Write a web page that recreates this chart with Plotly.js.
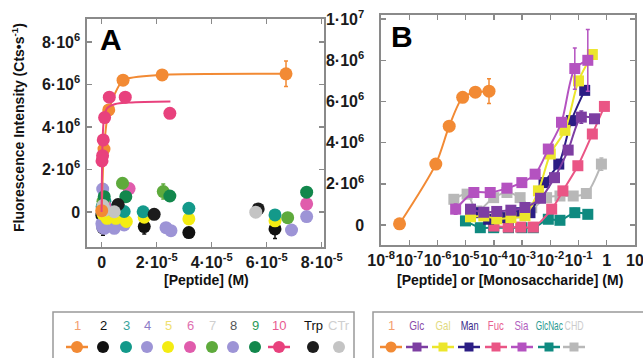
<!DOCTYPE html>
<html><head><meta charset="utf-8">
<script src="https://cdn.plot.ly/plotly-3.0.1.min.js"></script>
<style>html,body{margin:0;padding:0;background:#fff}#c{width:643px;height:358px}</style>
</head><body><div id="c"></div>
<script>
// ---------- Panel A data ([Peptide] in M, intensity in Cts/s) ----------
const p1X = [4.5e-8, 8.7e-7, 2.6e-6, 7.8e-6, 2.2e-5, 6.7e-5];
const p1Y = [0.06e6, 2.96e6, 4.8e6, 6.2e6, 6.45e6, 6.5e6];
const p1E = [0, 0.15e6, 0.2e6, 0.1e6, 0.1e6, 0.6e6];

const p10X = [1.5e-7, 3.6e-7, 6e-7, 1.1e-6, 2.8e-6, 8.6e-6, 2.48e-5];
const p10Y = [2.4e6, 2.65e6, 3.39e6, 4.44e6, 5.4e6, 5.4e6, 4.64e6];
const p10FitX = [0, 1e-7, 2.5e-7, 5e-7, 1e-6, 2e-6, 5e-6, 1e-5, 2.5e-5];
const p10FitY = [0, 1.5e6, 2.8e6, 3.8e6, 4.5e6, 4.88e6, 5.08e6, 5.15e6, 5.2e6];

const p2X = [1e-7, 5e-7, 1.2e-6, 6e-6, 1.55e-5, 3.17e-5, 6.3e-5];
const p2Y = [-0.15e6, -0.75e6, 0.25e6, 0.3e6, -0.69e6, -0.97e6, -0.8e6];
const p2E = [0.1e6, 0.35e6, 0, 0, 0.35e6, 0, 0.45e6];
const p3X = [2e-7, 1.2e-6, 4e-6, 8.2e-6, 1.51e-5, 3.17e-5, 6.3e-5];
const p3Y = [0.25e6, 0.5e6, 0.1e6, 0.02e6, 0.01e6, 0.17e6, -0.14e6];
const p4X = [1e-7, 4e-7, 1e-6, 4.6e-6, 8.2e-6, 2.34e-5];
const p4Y = [-0.55e6, 1.08e6, -0.77e6, -0.77e6, -0.61e6, -0.74e6];
const p5X = [5e-7, 2e-6, 5.2e-6, 9e-6, 1.55e-5, 3.17e-5, 6.3e-5];
const p5Y = [-0.1e6, -0.3e6, -0.3e6, -0.45e6, -0.25e6, -0.33e6, -0.42e6];
const p6X = [1.2e-6, 1.0e-5, 7.45e-5];
const p6Y = [0.3e6, 1.1e6, 0.38e6];
const p7X = [5e-7, 7.6e-6, 2.24e-5, 6.76e-5];
const p7Y = [0.5e6, 1.35e6, 0.96e6, -0.27e6];
const p7E = [0, 0, 0.35e6, 0];
const p8X = [3e-7, 2.52e-5, 6.9e-5, 7.45e-5];
const p8Y = [-0.7e6, -0.88e6, -0.85e6, -0.22e6];
const p9X = [9.5e-7, 8.8e-6, 2.48e-5, 7.45e-5];
const p9Y = [0.72e6, 0.72e6, 0.75e6, 0.93e6];
const trpX = [6e-6, 1.91e-5, 5.69e-5];
const trpY = [0.35e6, -0.11e6, 0.14e6];
const ctrX = [5e-7, 1.2e-6, 4.6e-6, 5.6e-5];
const ctrY = [0.3e6, 0.09e6, 0.01e6, -0.01e6];

// ---------- Panel B data ([Monosaccharide] in M) ----------
const siaX = [4.4e-6, 1.95e-5, 7.4e-5, 2.9e-4, 9.8e-4, 2.9e-3, 8.5e-3, 2.5e-2, 7.4e-2, 0.214];
const siaY = [0.77e6, 1.58e6, 1.58e6, 1.79e6, 2.06e6, 2.47e6, 3.69e6, 4.99e6, 7.6e6, 8.0e6];
const siaE = [0.25e6, 0, 0, 0, 0, 0, 0, 0, 1.0e6, 1.5e6];
const glcX = [1.48e-5, 4.4e-5, 1.26e-4, 4.0e-4, 1.26e-3, 4.5e-3, 1.41e-2, 4.3e-2, 0.126, 0.37];
const glcY = [0.77e6, 0.62e6, 0.66e6, 0.72e6, 0.85e6, 1.3e6, 2.3e6, 3.64e6, 5.24e6, 5.16e6];
const glcE = [0, 0, 0, 0, 0, 0, 0, 0, 0.3e6, 0];
const galX = [1.48e-5, 4.4e-5, 1.26e-4, 4.0e-4, 1.26e-3, 3.8e-3, 1e-2, 3.3e-2, 0.1, 0.31];
const galY = [0.4e6, 0.44e6, 0.3e6, 0.36e6, 0.45e6, 1.66e6, 3.45e6, 4.6e6, 7.0e6, 8.28e6];
const manX = [2.5e-5, 6.5e-5, 2.2e-4, 7.4e-4, 1.9e-3, 6.0e-3, 2.0e-2, 5.6e-2, 0.166];
const manY = [0.6e6, 0.28e6, 0.36e6, 0.6e6, 0.6e6, 2.06e6, 2.96e6, 5.07e6, 6.54e6];
const fucX = [1e-4, 3.2e-4, 8.9e-4, 2.5e-3, 1.12e-2, 2.8e-2, 9.5e-2, 0.31, 0.83];
const fucY = [-0.05e6, -0.1e6, -0.1e6, -0.1e6, 0.77e6, 1.66e6, 2.88e6, 4.42e6, 5.76e6];
const gnaX = [9.8e-6, 3.3e-5, 9.8e-5, 3.3e-4, 9.8e-4, 2.5e-3, 8.5e-3, 2.2e-2, 7.4e-2, 0.214];
const gnaY = [0.2e6, -0.13e6, -0.13e6, -0.13e6, -0.13e6, -0.13e6, 0.28e6, 0.23e6, 0.6e6, 0.52e6];
const gnaE = [0, 0, 0, 0, 0, 0, 0, 0, 0.2e6, 0];
const chdX = [3.8e-6, 1.12e-5, 2.5e-5, 9.8e-5, 2.9e-4, 8.5e-4, 2.2e-3, 7.4e-3, 2.2e-2, 6.5e-2, 0.19, 0.65];
const chdY = [1.25e6, 1.5e6, 0.68e6, 1.33e6, 1.58e6, 1.33e6, 0.84e6, 1.33e6, 1.41e6, 1.41e6, 1.53e6, 2.96e6];
const chdE = [0, 0, 0, 0, 0, 0, 0, 0, 0, 0, 0, 0.3e6];

// ---------- ticks ----------
const yTickValsA = [0, 2e6, 4e6, 6e6, 8e6];
const yTickTextA = ['0', '2·10<sup>6</sup>', '4·10<sup>6</sup>', '6·10<sup>6</sup>', '8·10<sup>6</sup>'];
const xTickValsA = [0, 2e-5, 4e-5, 6e-5, 8e-5];
const xTickTextA = ['0', '2·10<sup>-5</sup>', '4·10<sup>-5</sup>', '6·10<sup>-5</sup>', '8·10<sup>-5</sup>'];
const yTickValsB = [0, 2e6, 4e6, 6e6, 8e6, 1e7];
const yTickTextB = ['0', '2·10<sup>6</sup>', '4·10<sup>6</sup>', '6·10<sup>6</sup>', '8·10<sup>6</sup>', '1·10<sup>7</sup>'];
const xTickValsB = [1e-8, 1e-7, 1e-6, 1e-5, 1e-4, 1e-3, 1e-2, 1e-1, 1, 10];
const xTickTextB = ['10<sup>-8</sup>', '10<sup>-7</sup>', '10<sup>-6</sup>', '10<sup>-5</sup>', '10<sup>-4</sup>', '10<sup>-3</sup>', '10<sup>-2</sup>', '10<sup>-1</sup>', '1', '10'];

// ---------- legends ----------
const legA = ['1', '2', '3', '4', '5', '6', '7', '8', '9', '10', 'Trp', 'CTr'];
const legB = ['1', 'Glc', 'Gal', 'Man', 'Fuc', 'Sia', 'GlcNac', 'CHD'];

// ---------- styles / layout constants ----------
const C = {
  p1: '#f28a34', p2: '#111111', p3: '#13998a', p4: '#9d94d6', p5: '#f4ec12', p6: '#e05cac',
  p7: '#5eaa3c', p8: '#9d94d6', p9: '#12874c', p10: '#e8417d', trp: '#1c1c1c', ctr: '#c4c4c4',
  glc: '#7d3ea2', gal: '#ece62c', man: '#2b1d84', fuc: '#ea5585', sia: '#b452c0', gna: '#0f8a80', chd: '#b8b8b8'
};
const legAColors = [C.p1, C.p2, C.p3, C.p4, C.p5, C.p6, C.p7, C.p8, C.p9, C.p10, C.trp, C.ctr];
const legATextColors = ['#f4a070', '#111', '#3aa49c', '#8c7cc8', '#efe070', '#e070b0', '#cfcfcf', '#555', '#2a9a58', '#e85a90', '#111', '#cfcfcf'];
const legAHasLine = [true, false, false, false, false, false, false, false, false, true, false, false];
const legAPos = [77, 103, 126, 147, 168, 190, 212, 233, 255, 279, 313, 339];
const legBColors = [C.p1, C.glc, C.gal, C.man, C.fuc, C.sia, C.gna, C.chd];
const legBTextColors = ['#f4a070', '#8a4aaa', '#e2da80', '#3a2a8a', '#e86090', '#b060c0', '#2a9a90', '#cccccc'];
const legBPos = [391, 417, 443, 469, 496, 522, 549, 574];
const legBWidth = [0, 15, 15, 18, 16, 14, 27, 19];   // compressed label widths (narrow face)
const W = 643, H = 358;
const FONT = 'Liberation Sans, Arial, sans-serif';

const traces = [];
function errBar(e, color) {
  return e ? {type: 'data', array: e, visible: true, color: color, thickness: 1.5, width: 2} : {visible: false};
}
function ptsA(x, y, color, e) {
  traces.push({x, y, type: 'scatter', mode: 'markers', xaxis: 'x', yaxis: 'y',
    marker: {color, size: 13}, error_y: errBar(e, color), hoverinfo: 'skip'});
}
function lineB(x, y, color, symbol, size, e) {
  traces.push({x, y, type: 'scatter', mode: 'lines+markers', xaxis: 'x2', yaxis: 'y2',
    line: {color, width: 2, shape: 'spline', smoothing: 0.8},
    marker: {color, size, symbol}, error_y: errBar(e, color), hoverinfo: 'skip'});
}

// Panel A
ptsA(p2X, p2Y, C.p2, p2E);
ptsA(p4X, p4Y, C.p4);
ptsA(p8X, p8Y, C.p8);
ptsA(p5X, p5Y, C.p5);
ptsA(p3X, p3Y, C.p3);
ptsA(p6X, p6Y, C.p6);
ptsA(p7X, p7Y, C.p7, p7E);
ptsA(p9X, p9Y, C.p9);
ptsA(trpX, trpY, C.trp);
ptsA(ctrX, ctrY, C.ctr);
traces.push({x: p1X, y: p1Y, type: 'scatter', mode: 'lines+markers', xaxis: 'x', yaxis: 'y',
  line: {color: C.p1, width: 2, shape: 'spline', smoothing: 0.6}, marker: {color: C.p1, size: 13},
  error_y: errBar(p1E, C.p1), hoverinfo: 'skip'});
traces.push({x: p10FitX, y: p10FitY, type: 'scatter', mode: 'lines', xaxis: 'x', yaxis: 'y',
  line: {color: C.p10, width: 2, shape: 'spline'}, hoverinfo: 'skip'});
ptsA(p10X, p10Y, C.p10);

// Panel B
lineB(chdX, chdY, C.chd, 'square', 11, chdE);
lineB(gnaX, gnaY, C.gna, 'square', 11, gnaE);
lineB(fucX, fucY, C.fuc, 'square', 11);
lineB(manX, manY, C.man, 'square', 11);
lineB(galX, galY, C.gal, 'square', 11);
lineB(glcX, glcY, C.glc, 'square', 11, glcE);
lineB(siaX, siaY, C.sia, 'square', 11, siaE);
lineB(p1X, p1Y, C.p1, 'circle', 13, p1E);

// Legends (overlay pixel axis)
const legY = 347, legTextY = 325;
const annotations = [];
function legendItem(xc, color, textColor, label, hasLine, symbol, size, name) {
  if (hasLine) {
    traces.push({x: [xc - 11, xc + 11], y: [legY, legY], type: 'scatter', mode: 'lines', xaxis: 'x3', yaxis: 'y3',
      line: {color, width: 2.5}, hoverinfo: 'skip'});
  }
  traces.push({x: [xc], y: [legY], type: 'scatter', mode: 'markers', xaxis: 'x3', yaxis: 'y3',
    marker: {color, size, symbol}, hoverinfo: 'skip'});
  annotations.push({x: xc, y: legTextY, xref: 'x3', yref: 'y3', text: label, showarrow: false, name: name,
    font: {family: FONT, size: 13, color: textColor}, xanchor: 'center', yanchor: 'middle'});
}
legA.forEach((l, i) => legendItem(legAPos[i], legAColors[i], legATextColors[i], l, legAHasLine[i], 'circle', 12, 'legA' + i));
legB.forEach((l, i) => legendItem(legBPos[i], legBColors[i], legBTextColors[i], l, true, i === 0 ? 'circle' : 'square', i === 0 ? 11 : 9, 'legB' + i));

// Titles and panel letters
const titleFont = {family: FONT, size: 14, color: '#111', weight: 'bold'};
annotations.push({x: 18, y: 128, xref: 'x3', yref: 'y3', text: 'Fluorescence Intensity (Cts•s<sup>-1</sup>)',
  textangle: -90, showarrow: false, font: titleFont});
annotations.push({x: 206, y: 280, xref: 'x3', yref: 'y3', text: '[Peptide] (M)', showarrow: false, font: titleFont});
annotations.push({x: 510, y: 280, xref: 'x3', yref: 'y3', text: '[Peptide] or [Monosaccharide] (M)', showarrow: false, font: titleFont});
annotations.push({x: 111, y: 39, xref: 'x3', yref: 'y3', text: 'A', showarrow: false,
  font: {family: FONT, size: 30, color: '#000', weight: 'bold'}});
annotations.push({x: 402, y: 36, xref: 'x3', yref: 'y3', text: 'B', showarrow: false,
  font: {family: FONT, size: 30, color: '#000', weight: 'bold'}});

const shapes = [
  {type: 'rect', xref: 'x3', yref: 'y3', x0: 53, x1: 354, y0: 312, y1: 372, line: {color: '#999', width: 1.5}},
  {type: 'rect', xref: 'x3', yref: 'y3', x0: 373, x1: 660, y0: 312, y1: 372, line: {color: '#999', width: 1.5}}
];

function bold(arr) { return arr.map(t => '<b>' + t + '</b>'); }
const axBase = {showline: true, linecolor: '#8a8a8a', linewidth: 1.6, mirror: 'allticks', ticks: 'inside',
  ticklen: 5, tickwidth: 1.3, tickcolor: '#8a8a8a', showgrid: false, zeroline: false, tickangle: 0,
  ticklabeloverflow: 'allow',
  tickfont: {family: FONT, size: 16, color: '#1a1a1a'}, automargin: false, fixedrange: true};

const layout = {
  width: W, height: H, margin: {l: 0, r: 0, t: 0, b: 0}, showlegend: false,
  paper_bgcolor: '#fff', plot_bgcolor: 'rgba(0,0,0,0)',
  xaxis: Object.assign({}, axBase, {domain: [87 / W, 324 / W], range: [-5.3e-6, 8.08e-5], anchor: 'y',
    tickmode: 'array', tickvals: xTickValsA, ticktext: bold(xTickTextA)}),
  yaxis: Object.assign({}, axBase, {domain: [1 - 247 / H, 1 - 19 / H], range: [-1.65e6, 9.08e6], anchor: 'x',
    tickmode: 'array', tickvals: yTickValsA, ticktext: bold(yTickTextA), ticklabelstandoff: 2}),
  xaxis2: Object.assign({}, axBase, {domain: [381 / W, 635 / W], type: 'log', range: [-8.004, 1.004], anchor: 'y2',
    tickmode: 'array', tickvals: xTickValsB, ticktext: bold(xTickTextB)}),
  yaxis2: Object.assign({}, axBase, {domain: [1 - 245 / H, 1 - 15 / H], range: [-0.97e6, 1.02e7], anchor: 'x2',
    tickmode: 'array', tickvals: yTickValsB, ticktext: bold(yTickTextB), ticklabelstandoff: 12}),
  xaxis3: {domain: [0, 1], range: [0, W], anchor: 'y3', visible: false, fixedrange: true},
  yaxis3: {domain: [0, 1], range: [H, 0], anchor: 'x3', visible: false, fixedrange: true},
  annotations, shapes
};
Plotly.newPlot('c', traces, layout, {staticPlot: true, displayModeBar: false}).then(gd => {
  // narrow-face look for the monosaccharide legend labels
  const texts = gd.querySelectorAll('.annotation-text');
  texts.forEach(t => {
    const idx = legB.indexOf(t.textContent);
    const g = t.closest('.annotation');
    if (!g) return;
    const ai = +g.getAttribute('data-index');
    const ann = layout.annotations[ai];
    if (ann && ann.name && ann.name.indexOf('legB') === 0) {
      const w = legBWidth[+ann.name.slice(4)];
      if (w) { t.setAttribute('textLength', w); t.setAttribute('lengthAdjust', 'spacingAndGlyphs'); }
    }
  });
});
</script></body></html>
